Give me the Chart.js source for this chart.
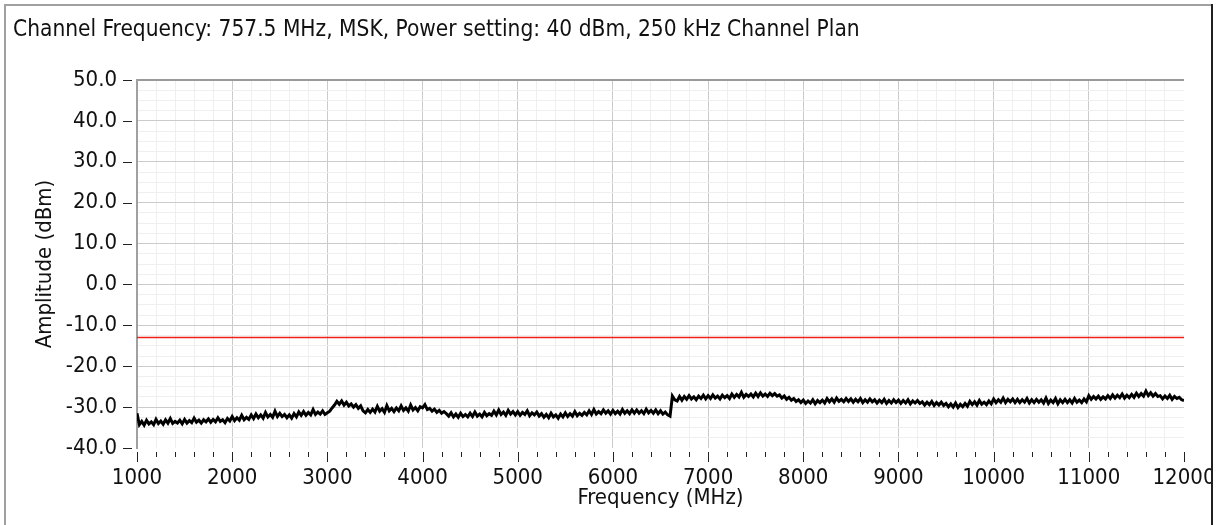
<!DOCTYPE html>
<html>
<head>
<meta charset="utf-8">
<script src="https://cdn.jsdelivr.net/npm/chart.js@4.4.1/dist/chart.umd.min.js"></script>
<style>
  body { margin: 0; background: #fff; }
  #wrap { width: 1219px; height: 525px; position: relative; }
</style>
</head>
<body>
<div id="wrap"><canvas id="myChart"></canvas></div>
<script>
// trace sampled every 25 MHz, 1000..12000 (one row = 250 MHz)
const freqStart = 1000;
const freqStep = 25;
const amplitude = [
  -31.5, -34.3, -33.5, -34.4, -33.2, -34.1, -33.6, -34.3, -33.0, -34.0,
  -33.4, -34.2, -33.1, -33.9, -32.8, -34.0, -33.5, -33.9, -33.2, -34.1,
  -33.0, -33.9, -33.3, -33.8, -32.7, -33.7, -33.2, -33.9, -33.1, -33.6,
  -32.9, -33.7, -33.0, -33.6, -32.6, -33.5, -33.1, -33.8, -32.8, -33.4,
  -32.3, -33.3, -32.6, -33.2, -32.0, -33.1, -32.5, -33.0, -31.9, -32.8,
  -31.7, -32.6, -31.9, -32.7, -31.3, -32.4, -31.8, -32.5, -31.0, -32.3,
  -31.5, -32.3, -31.8, -32.6, -31.9, -32.7, -31.6, -32.4, -31.2, -32.0,
  -31.1, -32.0, -31.3, -31.9, -30.6, -31.8, -31.2, -31.7, -30.9, -31.8,
  -31.4, -31.0, -30.2, -29.5, -28.6, -29.3, -28.5, -29.5, -28.8, -29.7,
  -29.2, -30.0, -29.4, -30.3, -29.7, -30.9, -31.4, -30.6, -31.3, -30.5,
  -31.2, -29.8, -31.0, -30.4, -31.3, -29.6, -30.9, -30.3, -31.1, -30.2,
  -30.9, -29.7, -30.8, -30.2, -31.0, -29.5, -30.7, -30.1, -30.9, -29.9,
  -30.2, -29.4, -30.6, -30.3, -31.0, -30.5, -31.3, -30.8, -31.5, -31.1,
  -31.6, -32.2, -31.4, -32.4, -31.7, -32.5, -31.5, -32.3, -31.8, -32.4,
  -31.5, -32.3, -31.2, -32.2, -31.7, -32.4, -31.3, -32.1, -31.6, -32.0,
  -31.0, -31.9, -30.7, -31.8, -31.2, -32.0, -30.8, -31.7, -31.1, -31.9,
  -31.1, -32.0, -31.3, -31.8, -30.9, -32.1, -31.4, -31.9, -31.2, -32.2,
  -31.6, -32.5, -31.8, -32.6, -31.5, -32.4, -31.9, -32.7, -31.7, -32.4,
  -31.4, -32.3, -31.6, -32.2, -31.1, -32.1, -31.5, -32.0, -31.3, -31.9,
  -30.9, -31.8, -30.6, -31.7, -31.1, -31.6, -30.7, -31.5, -30.9, -31.7,
  -30.8, -31.6, -31.0, -31.7, -30.6, -31.5, -30.9, -31.6, -30.7, -31.5,
  -30.7, -31.5, -30.9, -31.6, -30.5, -31.4, -30.8, -31.5, -30.7, -31.6,
  -30.9, -31.7, -31.2, -31.9, -32.2, -27.3, -28.2, -28.5, -27.4, -28.3,
  -27.4, -28.1, -27.2, -28.0, -27.5, -28.2, -27.3, -27.9, -27.1, -28.0,
  -27.2, -27.9, -27.0, -27.8, -27.3, -28.0, -27.1, -27.7, -27.2, -27.9,
  -26.8, -27.6, -26.9, -27.5, -26.4, -27.6, -26.9, -27.4, -26.8, -27.5,
  -26.6, -27.4, -26.5, -27.3, -26.8, -27.4, -26.6, -27.2, -26.7, -27.3,
  -27.0, -27.8, -27.3, -28.1, -27.6, -28.3, -27.9, -28.6, -28.2, -28.9,
  -28.3, -29.1, -28.5, -29.0, -28.2, -29.2, -28.4, -28.9, -28.3, -29.0,
  -27.9, -28.7, -28.0, -28.8, -27.8, -28.6, -28.1, -28.7, -27.9, -28.6,
  -28.0, -28.8, -28.1, -28.7, -27.9, -28.9, -28.2, -28.8, -28.0, -28.7,
  -28.2, -29.0, -28.3, -28.9, -28.1, -29.1, -28.4, -29.0, -28.2, -28.9,
  -28.3, -29.1, -28.4, -29.0, -28.2, -29.2, -28.5, -29.0, -28.4, -29.1,
  -28.7, -29.5, -28.8, -29.4, -28.6, -29.6, -28.9, -29.5, -28.8, -29.6,
  -29.1, -29.9, -29.2, -30.0, -29.0, -30.1, -29.3, -29.9, -29.1, -29.8,
  -28.6, -29.4, -28.7, -29.5, -28.4, -29.3, -28.8, -29.4, -28.5, -29.2,
  -28.0, -28.9, -28.2, -28.8, -27.8, -28.9, -28.1, -28.7, -28.0, -28.9,
  -28.1, -28.9, -28.2, -28.8, -27.9, -29.0, -28.2, -28.9, -28.1, -28.8,
  -28.2, -29.0, -27.8, -29.1, -28.3, -28.9, -27.9, -29.2, -28.2, -28.9,
  -28.1, -28.9, -28.2, -29.0, -27.9, -28.8, -28.3, -28.9, -28.0, -28.7,
  -27.2, -28.1, -27.4, -28.0, -27.3, -28.1, -27.5, -28.0, -27.2, -27.9,
  -27.0, -27.8, -27.1, -27.7, -26.8, -27.8, -27.1, -27.7, -26.9, -27.6,
  -26.6, -27.4, -26.7, -27.3, -26.1, -27.2, -26.5, -27.3, -26.7, -27.4,
  -27.2, -28.0, -27.3, -27.9, -27.1, -28.1, -27.4, -27.9, -27.6, -28.2,
  -28.4
];
const limitLevel = -13;
const xRange = [1000, 12000];
const yRange = [-40, 50];
const yMajorTicks = [50, 40, 30, 20, 10, 0, -10, -20, -30, -40];

const titleText = 'Channel Frequency: 757.5 MHz, MSK, Power setting: 40 dBm, 250 kHz Channel Plan';
const xTitle = 'Frequency (MHz)';
const yTitle = 'Amplitude (dBm)';

const FONT = "'DejaVu Sans Condensed', 'DejaVu Sans', sans-serif";

const traceData = amplitude.map((v, i) => ({ x: freqStart + i * freqStep, y: v }));
const limitData = xRange.map(f => ({ x: f, y: limitLevel }));

// frame + tick marks drawn outside the plot
const decor = {
  id: 'decor',
  beforeDraw(chart) {
    const c = chart.ctx;
    c.save();
    c.fillStyle = '#fff';
    c.fillRect(0, 0, chart.width, chart.height);
    c.restore();
  },
  afterDraw(chart) {
    const c = chart.ctx;
    const a = chart.chartArea;
    const xs = chart.scales.x, ys = chart.scales.y;
    c.save();
    c.strokeStyle = '#222';
    c.lineWidth = 1;
    c.beginPath();
    yMajorTicks.forEach(v => {
      const y = Math.round(ys.getPixelForValue(v)) + 0.5;
      c.moveTo(a.left - 14, y);
      c.lineTo(a.left - 5, y);
    });
    xs.ticks.forEach(t => {
      const x = Math.round(xs.getPixelForValue(t.value)) + 0.5;
      const major = t.value % 1000 === 0;
      c.moveTo(x, a.bottom + 4);
      c.lineTo(x, a.bottom + (major ? 14 : 9));
    });
    c.stroke();
    // outer frame
    c.fillStyle = '#fff';
    c.fillRect(1213, 0, chart.width - 1213, chart.height);
    c.fillStyle = '#a0a0a0';
    c.fillRect(4, 4, 2, chart.height - 4);
    c.fillRect(4, 4, 1209, 2);
    c.fillStyle = '#202020';
    c.fillRect(1211, 4, 2, chart.height - 4);
    c.restore();
  }
};

const ctx = document.getElementById('myChart').getContext('2d');
new Chart(ctx, {
  type: 'line',
  data: {
    datasets: [{
      data: limitData,
      borderColor: '#f0201a',
      borderWidth: 1.5,
      pointRadius: 0
    }, {
      data: traceData,
      borderColor: '#000',
      borderWidth: 3,
      pointRadius: 0,
      tension: 0
    }]
  },
  options: {
    responsive: true,
    maintainAspectRatio: false,
    animation: false,
    layout: { padding: { left: 13, right: 35, top: 0, bottom: 0 } },
    plugins: {
      legend: { display: false },
      tooltip: { enabled: false },
      title: {
        display: true,
        text: titleText,
        align: 'start',
        color: '#111',
        font: { family: FONT, size: 22.5, weight: 'normal' },
        padding: { top: 17, bottom: 36 }
      }
    },
    scales: {
      x: {
        type: 'linear',
        min: xRange[0],
        max: xRange[1],
        afterFit(s) { s.height = 77; s.paddingLeft = 0; s.paddingRight = 0; },
        border: { display: false },
        grid: {
          drawTicks: false,
          color: c => {
            const v = c.tick.value;
            if (v === xRange[0] || v === xRange[1]) return 'rgba(0,0,0,0)';
            return v % 1000 === 0 ? '#cbcbcb' : '#efefef';
          }
        },
        ticks: {
          stepSize: 200,
          maxTicksLimit: 100,
          autoSkip: false,
          maxRotation: 0,
          padding: 17,
          color: '#111',
          font: { family: FONT, size: 22 },
          callback: v => (v % 1000 === 0 ? String(v) : '')
        },
        title: {
          display: true,
          text: xTitle,
          color: '#111',
          font: { family: FONT, size: 22 },
          padding: { top: 0, bottom: 14 }
        }
      },
      y: {
        min: yRange[0],
        max: yRange[1],
        afterFit(s) { s.width = 124; },
        border: { display: true, color: '#a0a0a0', width: 2 },
        grid: {
          drawTicks: false,
          color: c => {
            const v = c.tick.value;
            if (v === yRange[1]) return '#9a9a9a';
            if (v === yRange[0]) return 'rgba(0,0,0,0)';
            return v % 10 === 0 ? '#cbcbcb' : '#efefef';
          },
          lineWidth: c => (c.tick.value === yRange[1] ? 2 : 1)
        },
        ticks: {
          stepSize: 2.5,
          maxTicksLimit: 100,
          autoSkip: false,
          padding: 20,
          color: '#111',
          font: { family: FONT, size: 22 },
          callback: v => (v % 10 === 0 ? v.toFixed(1) : '')
        },
        title: {
          display: true,
          text: yTitle,
          color: '#111',
          font: { family: FONT, size: 22 },
          padding: { top: 19, bottom: 0 }
        }
      }
    }
  },
  plugins: [decor]
});
</script>
</body>
</html>
